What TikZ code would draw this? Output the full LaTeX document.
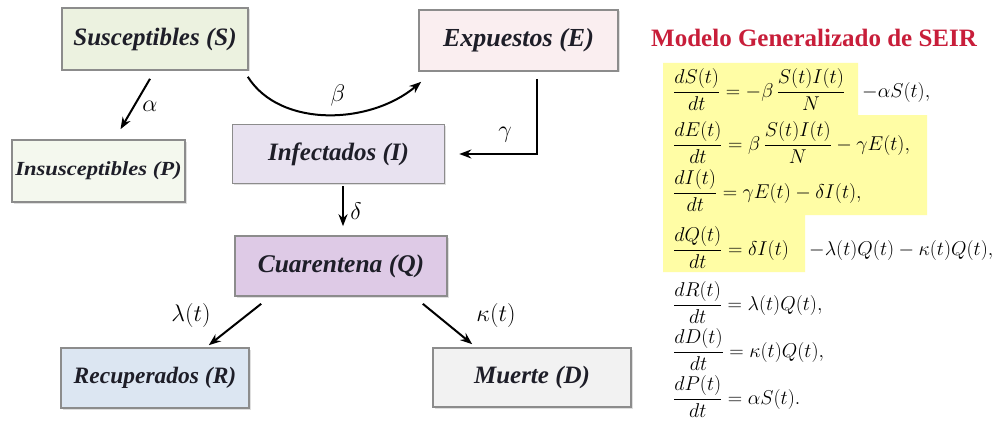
\RequirePackage{fix-cm}
\documentclass[tikz,border=0pt]{standalone}
\usepackage{fontspec}
\setmainfont{Liberation Serif}
\usetikzlibrary{arrows.meta,calc,shadows}
\definecolor{boxline}{RGB}{140,140,140}
\definecolor{textc}{RGB}{30,30,40}
\definecolor{fillS}{RGB}{236,242,224}
\definecolor{fillE}{RGB}{250,238,240}
\definecolor{fillP}{RGB}{244,248,238}
\definecolor{fillI}{RGB}{232,226,240}
\definecolor{fillQ}{RGB}{222,202,230}
\definecolor{fillR}{RGB}{220,230,242}
\definecolor{fillD}{RGB}{242,242,242}
\definecolor{hl}{RGB}{255,253,165}
\definecolor{titlec}{RGB}{200,30,58}
\begin{document}
\begin{tikzpicture}[x=1pt,y=-1pt,
  stagebox/.style={draw=boxline, line width=1.6pt, inner sep=0pt, align=center,
    text=textc,
    drop shadow={opacity=0.25, shadow xshift=1.5pt, shadow yshift=-1.5pt}},
  bfi/.style={font=\fontsize{#1}{#1}\selectfont\bfseries\itshape},
  arr/.style={line width=2pt, -{Stealth[length=12pt,width=9pt]}},
  lab/.style={font=\fontsize{24}{28}\selectfont, inner sep=0pt},
  eq/.style={anchor=base west, inner sep=0pt, font=\fontsize{20}{24}\selectfont}]
\useasboundingbox (0,0) rectangle (1007,428);
\fill[white] (0,0) rectangle (1007,428);

% boxes
\node[stagebox, bfi=25, fill=fillS, minimum width=186, minimum height=62] (S) at (155,39) {Susceptibles (S)};
\node[stagebox, bfi=26, fill=fillE, minimum width=199, minimum height=61] (E) at (518.5,40.5) {Expuestos (E)};
\node[stagebox, bfi=20, fill=fillP, minimum width=173, minimum height=62] (P) at (98.5,171) {\scalebox{1.13}[1]{Insusceptibles (P)}};
\node[stagebox, bfi=25, fill=fillI, minimum width=212, minimum height=59] (I) at (338.5,154) {Infectados (I)};
\node[stagebox, bfi=25.5, fill=fillQ, minimum width=212, minimum height=60] (Q) at (341,266) {Cuarentena (Q)};
\node[stagebox, bfi=23.5, fill=fillR, minimum width=188, minimum height=60] (R) at (155,378) {Recuperados (R)};
\node[stagebox, bfi=25, fill=fillD, minimum width=198, minimum height=59] (D) at (532,377.5) {Muerte (D)};

% arrows
\draw[arr] ([shift={(-5,8)}]S.south) -- ([shift={(22,-10)}]P.north);
\node[lab] (la) at (150,106) {$\alpha$};
\draw[arr] ([shift={(-1,6)}]S.south east) .. controls (280,128) and (370,125) .. ([shift={(3,10)}]E.south west);
\node[lab] (lb) at (338,96) {$\beta$};
\draw[arr] ([shift={(18.5,7)}]E.south) |- ([xshift=14]I.east);
\node[lab] (lg) at (505,135) {$\gamma$};
\coordinate (iq) at ([shift={(4.5,2)}]I.south);
\draw[arr, shorten >=9pt] (iq) -- (iq |- Q.north);
\node[lab] (ld) at (356,211) {$\delta$};
\draw[arr] ([shift={(27,7)}]Q.south west) -- ([shift={(-41,-2)}]R.north east);
\node[lab] (ll) at (191,315) {$\lambda(t)$};
\draw[arr] ([shift={(-25,7)}]Q.south east) -- ([shift={(40,-3)}]D.north west);
\node[lab] (lk) at (496,315) {$\kappa(t)$};

% title
\node[font=\fontsize{25}{30}\selectfont\bfseries, text=titlec, anchor=west, inner sep=0pt] (T) at (651,38) {Modelo Generalizado de SEIR};

% highlight
\fill[hl] (663,63) -- (858,63) -- (858,115) -- (927,115) -- (927,215) -- (805,215) -- (805,272) -- (663,272) -- cycle;

% equations
\node[eq] (e1) at (673,97) {$\displaystyle \frac{dS(t)}{dt} = -\beta\,\frac{S(t)I(t)}{N}$};
\node[eq] (e1b) at (862,97) {$-\alpha S(t),$};
\node[eq] (e2) at (673,150) {$\displaystyle \frac{dE(t)}{dt} = \beta\,\frac{S(t)I(t)}{N} - \gamma E(t),$};
\node[eq] (e3) at (673,198) {$\displaystyle \frac{dI(t)}{dt} = \gamma E(t) - \delta I(t),$};
\node[eq] (e4) at (673,255) {$\displaystyle \frac{dQ(t)}{dt} = \delta I(t)$};
\node[eq] (e4b) at (809,255) {$-\lambda(t)Q(t) - \kappa(t)Q(t),$};
\node[eq] (e5) at (673,310) {$\displaystyle \frac{dR(t)}{dt} = \lambda(t)Q(t),$};
\node[eq] (e6) at (673,357) {$\displaystyle \frac{dD(t)}{dt} = \kappa(t)Q(t),$};
\node[eq] (e7) at (673,404) {$\displaystyle \frac{dP(t)}{dt} = \alpha S(t).$};
\end{tikzpicture}
\end{document}
